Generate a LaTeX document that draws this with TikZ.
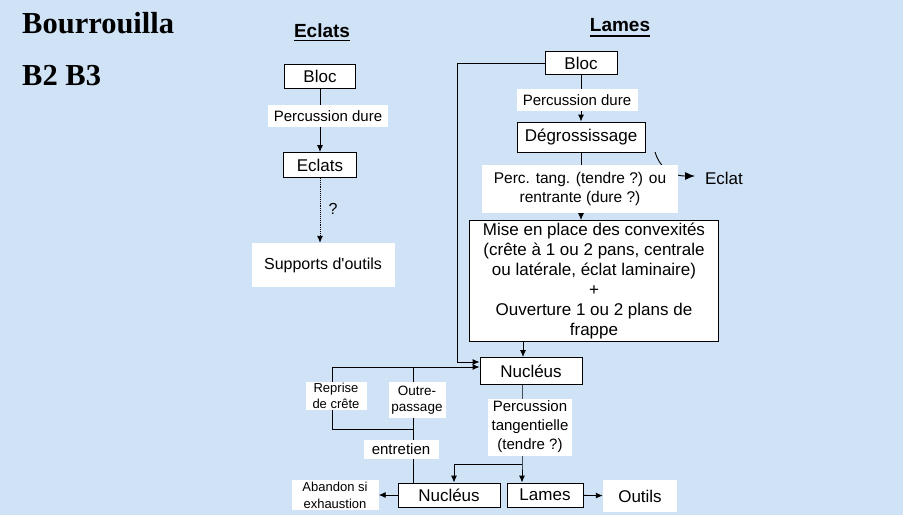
\documentclass[tikz,border=0pt]{standalone}
\usepackage{fontspec}
\setmainfont{Liberation Sans}
\newfontfamily\titlefont{Liberation Serif}
\usetikzlibrary{arrows.meta}

\definecolor{paper}{RGB}{208,226,246}

\begin{document}
\begin{tikzpicture}[x=1pt, y=-1pt]
\tikzstyle{mybox} = [draw, fill=white, line width=0.9pt, inner sep=0pt, font=\fontsize{17}{20}\selectfont]
\tikzstyle{mylabel} = [fill=white, inner sep=0pt, align=center, font=\fontsize{15.5}{19}\selectfont]
\tikzstyle{mysmall} = [fill=white, inner sep=0pt, align=center, font=\fontsize{13}{16}\selectfont]
\tikzstyle{myhead} = [inner sep=0pt, anchor=base, font=\fontsize{19}{22}\selectfont\bfseries]
\tikzstyle{myarrow} = [-{Latex[length=7pt, width=6pt]}, line width=0.9pt]

\fill[paper] (0,0) rectangle (903,515);
\useasboundingbox (0,0) rectangle (903,515);

% titles
\node[inner sep=0pt, anchor=base west, font=\titlefont\fontsize{30.5}{32}\selectfont\bfseries] (title) at (22,33) {Bourrouilla};
\node[inner sep=0pt, anchor=base west, font=\titlefont\fontsize{30.5}{32}\selectfont\bfseries] (sub) at (22,85) {B2 B3};
\node[myhead] (headE) at (322,37) {Eclats};
\node[myhead] (headL) at (620,31) {Lames};
\draw[line width=1.5pt] ([yshift=-3.5pt]headE.base west) -- ([yshift=-3.5pt]headE.base east);
\draw[line width=1.5pt] ([yshift=-5pt]headL.base west) -- ([yshift=-5pt]headL.base east);

% eclats
\node[mybox, minimum width=71pt, minimum height=24pt] (blocE) at (320,76) {Bloc};
\node[mybox, minimum width=73pt, minimum height=25pt] (eclatsE) at (320,165) {Eclats};
\node[fill=white, inner sep=0pt, minimum width=143pt, minimum height=44pt, font=\fontsize{16}{19}\selectfont] (supports) at (323,265) {Supports d\textquotesingle outils};

\draw[myarrow] (blocE) -- (eclatsE);
\draw[myarrow, densely dotted] (eclatsE.south) -- (eclatsE.south |- supports.north);
\node[mylabel, minimum width=120pt, minimum height=22pt, font=\fontsize{15}{18}\selectfont] (percE) at (328,116) {Percussion dure};
\node[inner sep=0pt, font=\fontsize{16}{19}\selectfont] (quest) at (333,209) {?};

% lames
\node[mybox, minimum width=72pt, minimum height=23pt] (blocL) at (581,63) {Bloc};
\node[mybox, minimum width=128pt, minimum height=30pt] (degros) at (581,137) {Dégrossissage};
\node[inner sep=0pt, font=\fontsize{17}{20}\selectfont] (eclat) at (724,178) {Eclat};
\node[mybox, minimum width=249pt, minimum height=121pt, align=center] (mise) at (594,281)
  {Mise en place des convexités\\(crête à 1 ou 2 pans, centrale\\ou latérale, éclat laminaire)\\+\\Ouverture 1 ou 2 plans de\\frappe};
\node[mybox, minimum width=102pt, minimum height=27pt] (nucl) at (531,371) {Nucléus};
\node[mybox, minimum width=102pt, minimum height=24pt] (nuclB) at (449,495) {Nucléus};
\node[mybox, minimum width=76pt, minimum height=24pt] (lames) at (545,495) {Lames};
\node[fill=white, inner sep=0pt, minimum width=74pt, minimum height=32pt, font=\fontsize{17}{20}\selectfont] (outils) at (640,496) {Outils};
\node[mysmall, minimum width=87pt, minimum height=30pt, font=\fontsize{13}{17}\selectfont] (abandon) at (335,495) {Abandon si\\exhaustion};

\coordinate (side) at (457,362);
\coordinate (deg) at (655,152);
\coordinate (tip) at (695,176);
\coordinate (mid) at (523,0);
\coordinate (loopA) at (332,367);
\coordinate (loopB) at (332,429);
\coordinate (loopC) at (413,429);
\coordinate (loopD) at (413,367);
\coordinate (split) at (522,464);
\coordinate (splitB) at (454,464);

\draw[myarrow] (blocL.west) -| (side) -- (side -| nucl.west);
\draw[myarrow] (blocL) -- (degros);
\draw[-{Latex[length=10pt, width=8pt]}, line width=0.9pt] (deg) .. controls (659,166) and (670,176) .. (tip);
\draw[myarrow] (degros.south) -- (degros.south |- mise.north);
\draw[myarrow] (mise.south -| mid) -- (nucl.north -| mid);
\draw[myarrow] (loopA) -- (loopA -| nucl.west);
\draw[line width=0.9pt] (loopA) -- (loopB) -- (loopC);
\draw[line width=0.9pt] (loopD) -- (loopD |- nuclB.north);
\draw[myarrow] (nucl.south -| split) -- (split) -- (split |- lames.north);
\draw[myarrow] (split) -- (splitB) -- (splitB |- nuclB.north);
\draw[myarrow] (nuclB) -- (abandon);
\draw[myarrow] (lames) -- (outils);

\node[mylabel, minimum width=121pt, minimum height=22pt, font=\fontsize{15}{18}\selectfont] (percL) at (577,100) {Percussion dure};
\node[mylabel, minimum width=196pt, minimum height=48pt] (tang) at (580,189) {Perc. tang. (tendre ?) ou\\rentrante (dure ?)};
\node[mysmall, minimum width=61pt, minimum height=28pt] (reprise) at (336,396) {Reprise\\de crête};
\node[mysmall, minimum width=57pt, minimum height=36pt, font=\fontsize{13.5}{16}\selectfont] (outre) at (417,400) {Outre-\\passage};
\node[mylabel, minimum width=75pt, minimum height=19pt, font=\fontsize{15}{18}\selectfont] (entretien) at (401,449) {entretien};
\node[mylabel, minimum width=84pt, minimum height=57pt, font=\fontsize{15}{19}\selectfont] (percT) at (530,427) {Percussion\\tangentielle\\(tendre ?)};
\end{tikzpicture}
\end{document}
